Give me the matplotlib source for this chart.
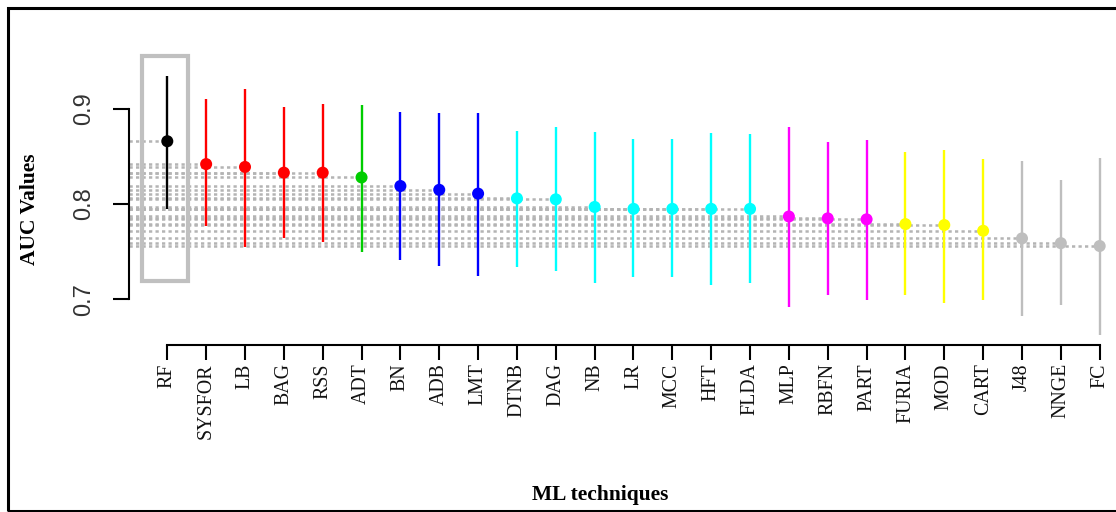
import numpy as np
import matplotlib
matplotlib.use("Agg")
import matplotlib.pyplot as plt
from matplotlib.patches import Rectangle

# ML techniques, ordered by mean AUC
techniques = ["RF", "SYSFOR", "LB", "BAG", "RSS", "ADT", "BN", "ADB", "LMT",
              "DTNB", "DAG", "NB", "LR", "MCC", "HFT", "FLDA", "MLP", "RBFN",
              "PART", "FURIA", "MOD", "CART", "J48", "NNGE", "FC"]
auc_mean = [0.866, 0.842, 0.839, 0.833, 0.833, 0.828, 0.819, 0.815, 0.811,
            0.806, 0.805, 0.797, 0.795, 0.795, 0.795, 0.795, 0.787, 0.785,
            0.784, 0.779, 0.778, 0.772, 0.764, 0.759, 0.756]
auc_upper = [0.935, 0.910, 0.921, 0.902, 0.905, 0.904, 0.897, 0.896, 0.896,
             0.877, 0.881, 0.876, 0.868, 0.868, 0.875, 0.874, 0.881, 0.865,
             0.867, 0.855, 0.857, 0.847, 0.845, 0.825, 0.848]
auc_lower = [0.795, 0.777, 0.755, 0.764, 0.760, 0.750, 0.741, 0.735, 0.724,
             0.734, 0.730, 0.717, 0.723, 0.723, 0.715, 0.717, 0.692, 0.705,
             0.699, 0.705, 0.696, 0.699, 0.682, 0.694, 0.663]
# rank group of each technique
group = [0, 1, 1, 1, 1, 2, 3, 3, 3, 4, 4, 4, 4, 4, 4, 4, 5, 5, 5, 6, 6, 6, 7, 7, 7]
group_colors = ["#000000", "#ff0000", "#00cd00", "#0000ff", "#00ffff",
                "#ff00ff", "#ffff00", "#bebebe"]

x = np.arange(len(techniques))
colors = [group_colors[g] for g in group]

W, H = 1116, 512
fig = plt.figure(figsize=(W / 100, H / 100), dpi=100)
ax_left, ax_right, ax_bottom, ax_top = 129.3, 1116, 344.5, 65.6
ax = fig.add_axes([ax_left / W, 1 - ax_bottom / H,
                   (ax_right - ax_left) / W, (ax_bottom - ax_top) / H])

xmin = -0.978
ax.set_xlim(xmin, 24.42)
ax.set_ylim(0.6526, 0.9454)

# dotted guide lines from the axis to each point
ax.hlines(auc_mean, xmin, x, colors="#b4b4b4", linewidth=1.8,
          linestyles=(0, (1.3, 1.3)), zorder=1)

# intervals and means
for i in range(len(techniques)):
    ax.plot([x[i], x[i]], [auc_lower[i], auc_upper[i]], color=colors[i],
            linewidth=1.7, zorder=3, solid_capstyle="butt")
ax.scatter(x, auc_mean, s=75, c=colors, zorder=4, linewidths=0)

# highlight box round the best technique
ax.add_patch(Rectangle((x[0] - 0.66, 0.719), 1.2, 0.2365, fill=False,
                       edgecolor="#c0c0c0", linewidth=3, clip_on=False, zorder=2))

# R-style axes
for s in ["top", "right"]:
    ax.spines[s].set_visible(False)
ax.spines["left"].set_bounds(0.7, 0.9)
ax.spines["bottom"].set_bounds(x[0], x[-1])
ax.spines["left"].set_linewidth(1.5)
ax.spines["bottom"].set_linewidth(1.5)

ax.set_yticks([0.7, 0.8, 0.9])
ax.set_yticklabels(["0.7", "0.8", "0.9"], rotation=90, va="center",
                   family="Liberation Sans", fontsize=17, color="#333333")
ax.tick_params(axis="y", length=11.5, width=1.5, pad=13)

ax.set_xticks(x)
ax.set_xticklabels(techniques, rotation=90, family="Liberation Serif",
                   fontsize=14.3, color="#111111")
ax.tick_params(axis="x", length=11, width=1.5, pad=2.5)

fig.text(600 / W, 1 - 495 / H, "ML techniques", ha="center", va="center",
         family="Liberation Serif", fontweight="bold", fontsize=15.5)
fig.text(30 / W, 1 - 209 / H, "AUC Values", ha="center", va="center",
         rotation=90, family="Liberation Serif", fontweight="bold", fontsize=15.5)

# frame round the whole picture (right side cut off)
fig.add_artist(Rectangle((8.3 / W, 1 - 511 / H), 1.1, (511 - 7.7) / H,
                         transform=fig.transFigure, fill=False,
                         edgecolor="black", linewidth=2.2, clip_on=False))

fig.savefig("out.png", dpi=100)
